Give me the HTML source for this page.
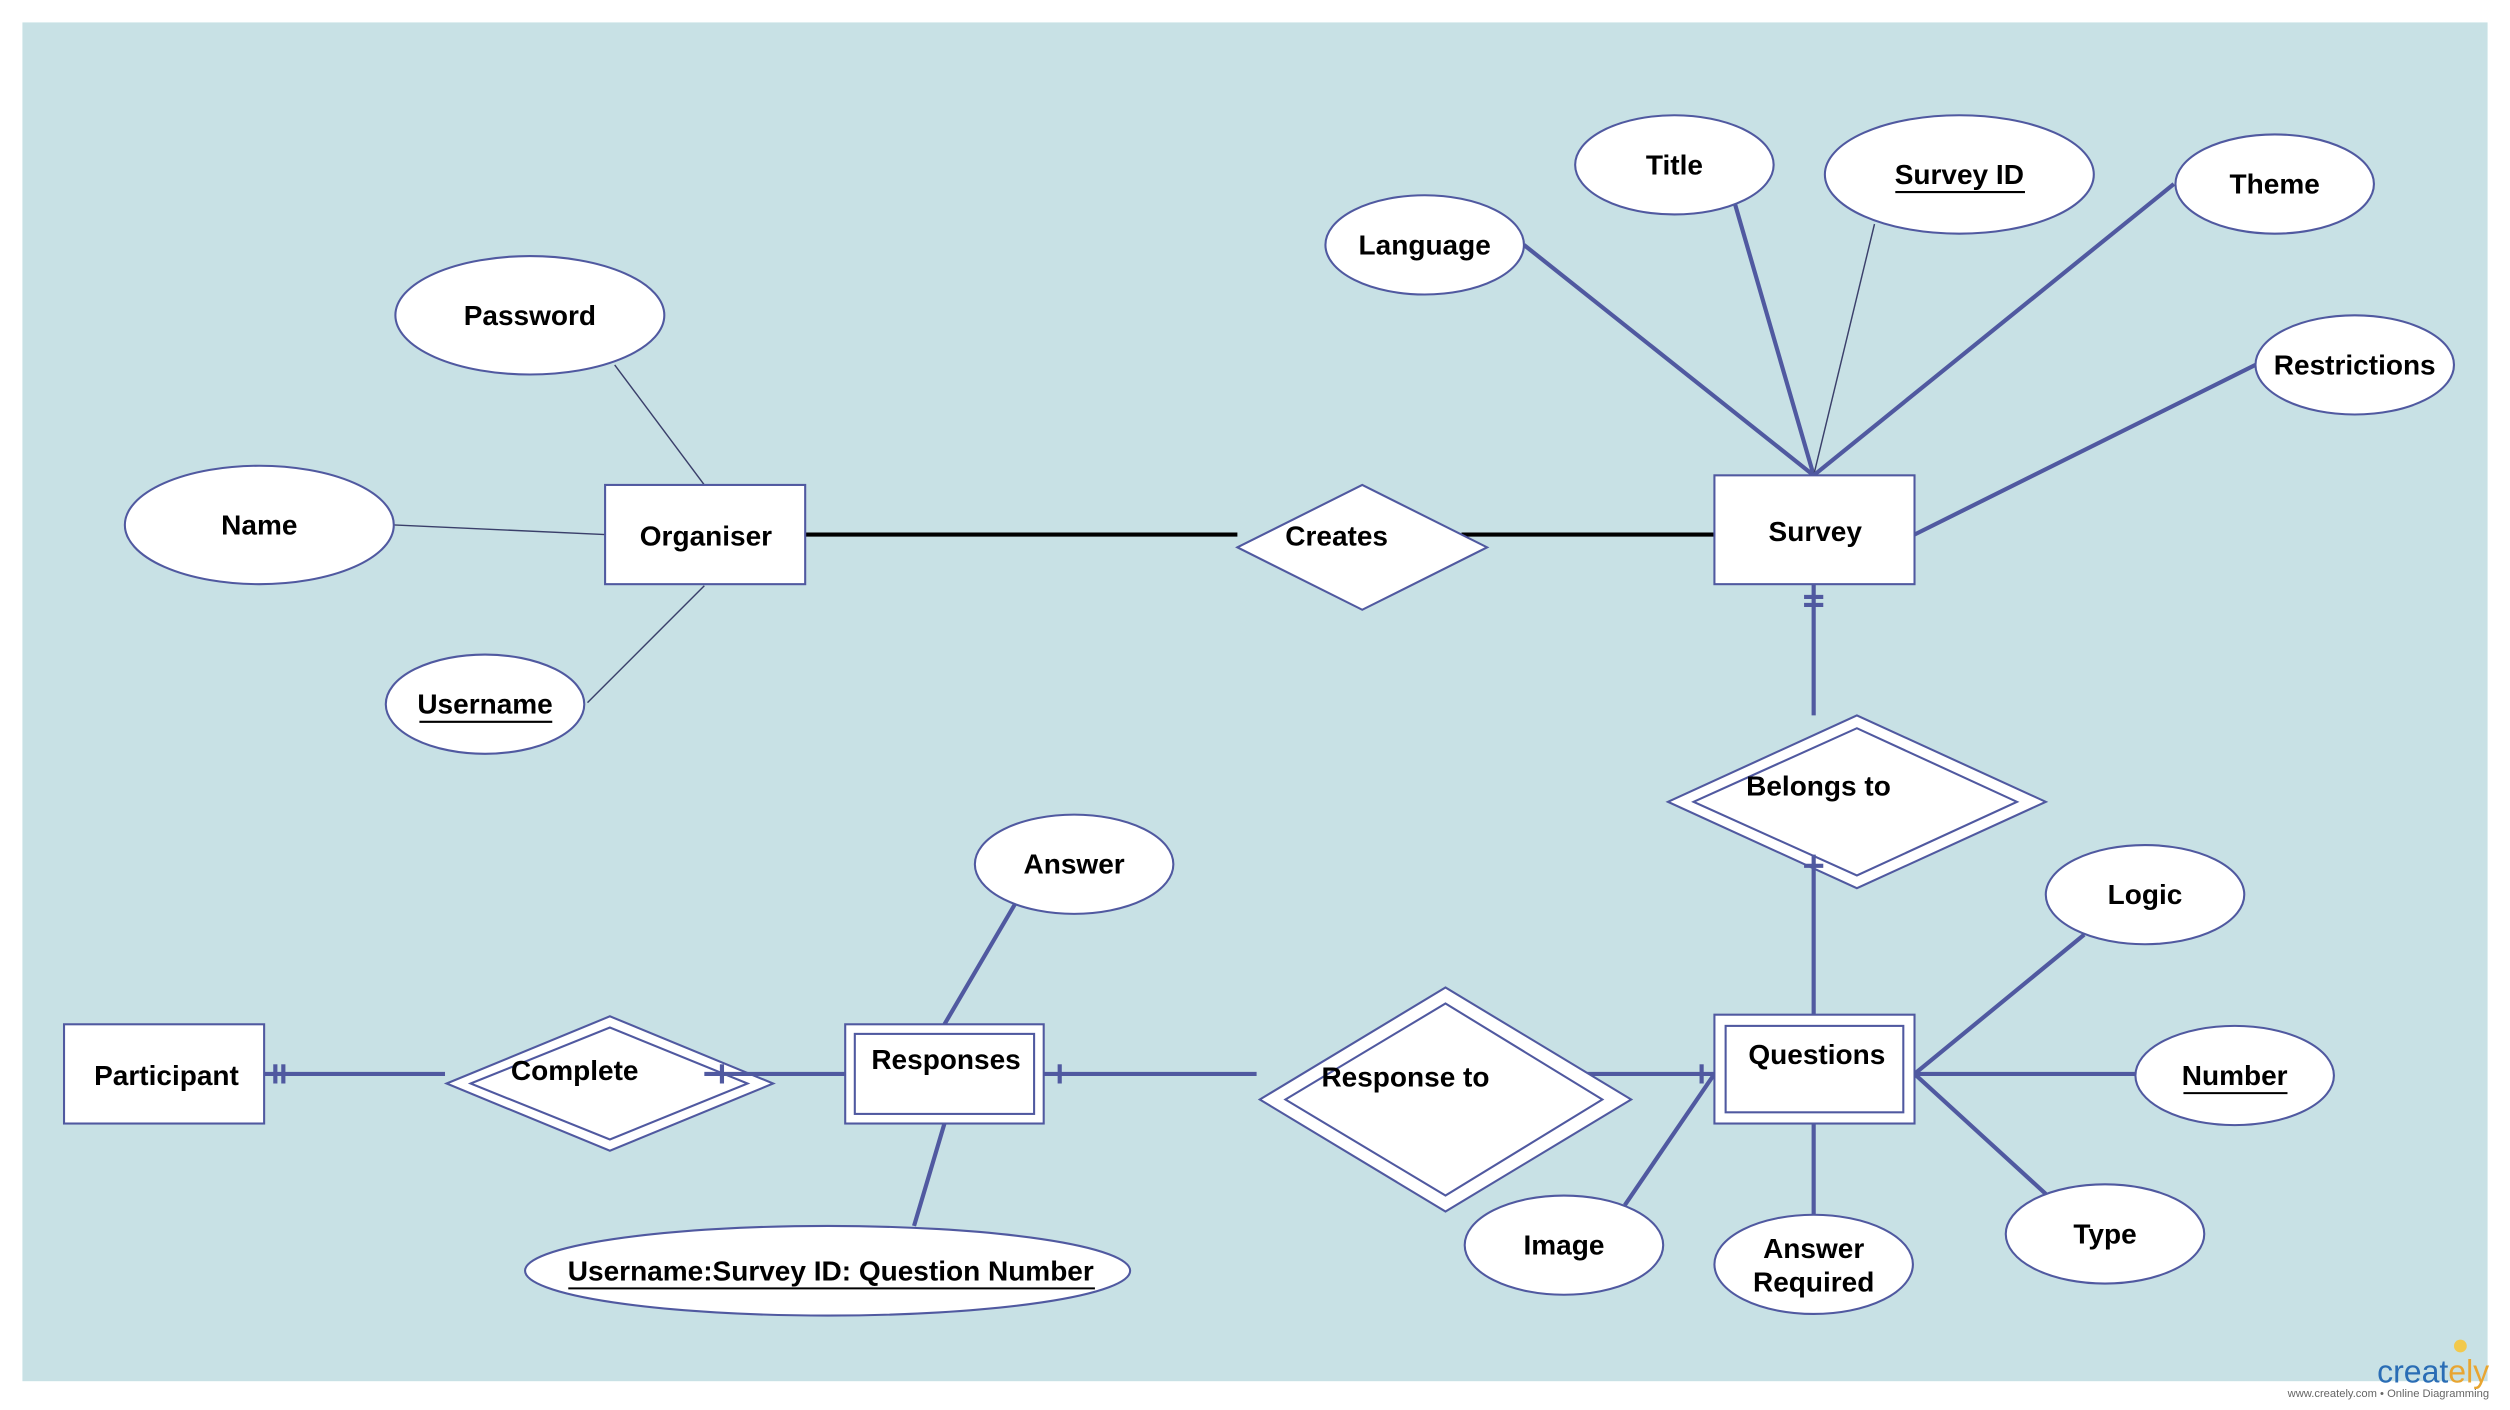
<!DOCTYPE html>
<html><head><meta charset="utf-8"><style>
html,body{margin:0;padding:0;background:#fff;}
svg{display:block}
text{font-family:"Liberation Sans",Arial,sans-serif;font-weight:bold;font-size:17.5px;fill:#000;text-anchor:middle;dominant-baseline:central}
.e{fill:#fff;stroke:#5059a0;stroke-width:1.3}
.tl{stroke:#3a3f6a;stroke-width:0.9;fill:none}
.bl{stroke:#5059a0;stroke-width:2.6;fill:none}
.k{stroke:#000;stroke-width:2.6}
</style></head><body>
<svg width="2510" height="1410" viewBox="0 0 1568 881" preserveAspectRatio="none">
<rect x="0" y="0" width="1568" height="881" fill="#fff"/>
<rect x="14" y="14" width="1540" height="849" fill="#c8e1e5"/>

<line class="tl" x1="384" y1="228" x2="440" y2="303"/>
<line class="tl" x1="246" y1="328" x2="378" y2="334"/>
<line class="tl" x1="367" y1="439" x2="440" y2="366"/>
<line class="k" x1="503" y1="334" x2="773" y2="334"/>
<line class="k" x1="913" y1="334" x2="1071" y2="334"/>
<line class="bl" x1="952" y1="153" x2="1133" y2="297"/>
<line class="bl" x1="1084" y1="128" x2="1133" y2="297"/>
<line class="tl" x1="1171" y1="140" x2="1133" y2="297"/>
<line class="bl" x1="1358" y1="115" x2="1133" y2="297"/>
<line class="bl" x1="1409" y1="228" x2="1196" y2="334"/>
<line class="bl" x1="1133" y1="365" x2="1133" y2="447"/>
<line class="bl" x1="1127" y1="373" x2="1139" y2="373"/>
<line class="bl" x1="1127" y1="378" x2="1139" y2="378"/>
<line class="bl" x1="1302" y1="584" x2="1196" y2="671"/>
<line class="bl" x1="1334" y1="671" x2="1196" y2="671"/>
<line class="bl" x1="1278" y1="746" x2="1196" y2="671"/>
<line class="bl" x1="1133" y1="702" x2="1133" y2="759"/>
<line class="bl" x1="1015" y1="753" x2="1071" y2="671"/>
<line class="bl" x1="970" y1="671" x2="1071" y2="671"/>
<line class="bl" x1="1063" y1="665" x2="1063" y2="677"/>
<line class="bl" x1="652" y1="671" x2="785" y2="671"/>
<line class="bl" x1="662" y1="665" x2="662" y2="677"/>
<line class="bl" x1="165" y1="671" x2="278" y2="671"/>
<line class="bl" x1="172" y1="665" x2="172" y2="677"/>
<line class="bl" x1="177" y1="665" x2="177" y2="677"/>
<line class="bl" x1="634" y1="565" x2="590" y2="640"/>
<line class="bl" x1="590" y1="702" x2="571" y2="766"/>

<ellipse class="e" cx="331" cy="197" rx="84" ry="37"/><text x="331" y="197">Password</text>
<ellipse class="e" cx="162" cy="328" rx="84" ry="37"/><text x="162" y="328">Name</text>
<ellipse class="e" cx="303" cy="440" rx="62" ry="31"/><text x="303" y="440">Username</text>
<line stroke="#000" stroke-width="1.3" x1="262" y1="451" x2="345" y2="451"/>
<ellipse class="e" cx="890" cy="153" rx="62" ry="31"/><text x="890" y="153">Language</text>
<ellipse class="e" cx="1046" cy="103" rx="62" ry="31"/><text x="1046" y="103">Title</text>
<ellipse class="e" cx="1224" cy="109" rx="84" ry="37"/><text x="1224" y="109">Survey ID</text>
<line stroke="#000" stroke-width="1.3" x1="1184" y1="120" x2="1265" y2="120"/>
<ellipse class="e" cx="1421" cy="115" rx="62" ry="31"/><text x="1421" y="115">Theme</text>
<ellipse class="e" cx="1471" cy="228" rx="62" ry="31"/><text x="1471" y="228">Restrictions</text>
<ellipse class="e" cx="1340" cy="559" rx="62" ry="31"/><text x="1340" y="559">Logic</text>
<ellipse class="e" cx="1396" cy="672" rx="62" ry="31"/><text x="1396" y="672">Number</text>
<line stroke="#000" stroke-width="1.3" x1="1364" y1="683" x2="1429" y2="683"/>
<ellipse class="e" cx="1315" cy="771" rx="62" ry="31"/><text x="1315" y="771">Type</text>
<ellipse class="e" cx="1133" cy="790" rx="62" ry="31"/><text x="1133" y="780">Answer</text><text x="1133" y="801">Required</text>
<ellipse class="e" cx="977" cy="778" rx="62" ry="31"/><text x="977" y="778">Image</text>
<ellipse class="e" cx="671" cy="540" rx="62" ry="31"/><text x="671" y="540">Answer</text>
<ellipse class="e" cx="517" cy="794" rx="189" ry="28"/><text x="519" y="794">Username:Survey ID: Question Number</text>
<line stroke="#000" stroke-width="1.3" x1="355" y1="805" x2="684" y2="805"/>

<rect class="e" x="378" y="303" width="125" height="62"/><text x="441" y="335">Organiser</text>
<rect class="e" x="1071" y="297" width="125" height="68"/><text x="1134" y="332">Survey</text>
<rect class="e" x="40" y="640" width="125" height="62"/><text x="104" y="672">Participant</text>
<rect class="e" x="1071" y="634" width="125" height="68"/><rect class="e" x="1078" y="641" width="111" height="54"/><text x="1135" y="659">Questions</text>
<rect class="e" x="528" y="640" width="124" height="62"/><rect class="e" x="534" y="646" width="112" height="50"/><text x="591" y="662">Responses</text>

<polygon class="e" points="773,342 851,303 929,342 851,381"/><text x="835" y="335">Creates</text>
<polygon class="e" points="1042,501 1160,447 1278,501 1160,555"/>
<polygon class="e" points="1058,501 1160,455 1260,501 1160,547"/>
<line class="bl" x1="1133" y1="534" x2="1133" y2="634"/>
<line class="bl" x1="1127" y1="541" x2="1139" y2="541"/>
<text x="1136" y="491">Belongs to</text>
<polygon class="e" points="787,687 903,617 1019,687 903,757"/>
<polygon class="e" points="803,687 903,627 1001,687 903,747"/>
<text x="878" y="673">Response to</text>
<polygon class="e" points="279,677 381,635 483,677 381,719"/>
<polygon class="e" points="294,677 381,642 467,677 381,712"/>
<line class="bl" x1="440" y1="671" x2="528" y2="671"/>
<line class="bl" x1="451" y1="665" x2="451" y2="677"/>
<text x="359" y="669">Complete</text>

<text x="1520" y="857" style="font-size:20px;font-weight:normal;fill:#2a6db5">creat<tspan fill="#e8a531">ely</tspan></text>
<circle cx="1537" cy="841" r="4" fill="#f2c94c"/>
<text x="1492" y="871" style="font-size:7px;font-weight:normal;fill:#666">www.creately.com • Online Diagramming</text>
</svg>
</body></html>
